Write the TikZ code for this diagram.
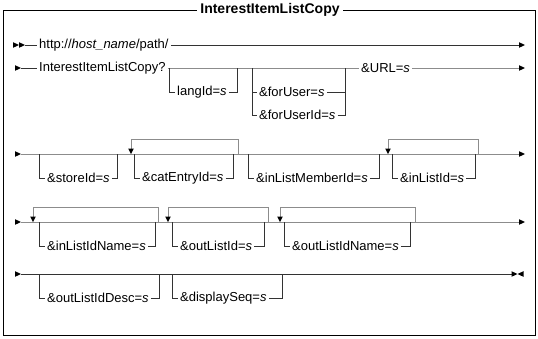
\documentclass[tikz,border=0pt]{standalone}
\usepackage{fontspec}
\setmainfont{Liberation Sans}
\newcommand\myRA[2]{\fill (#1,#2) -- ++(-6,-2.8) -- ++(0,5.6) -- cycle;}
\newcommand\myLA[2]{\fill (#1,#2) -- ++(6,-2.8) -- ++(0,5.6) -- cycle;}
\newcommand\myDA[2]{\fill (#1,#2) -- ++(-2.8,-5.5) -- ++(5.6,0) -- cycle;}
\begin{document}
\begin{tikzpicture}[x=1pt,y=-1pt,
  lbl/.style={font=\fontsize{13}{15}\selectfont, inner sep=2pt, anchor=west},
  ttl/.style={font=\bfseries\fontsize{14}{16}\selectfont, fill=white, inner sep=3pt},
  gl/.style={draw=black!45, line width=0.9pt},
  dl/.style={draw=black!80, line width=0.6pt}]
\useasboundingbox (0,0) rectangle (538,338);
\draw[line width=0.8pt] (3,10) rectangle (535,335);
\node[ttl] (title) at (270,10) {InterestItemListCopy};
% row 1
\myRA{19}{45}\myRA{25}{45}
\node[lbl] (http) at (37,45) {http://\textit{host\_name}/path/};
\draw[dl] (25,45) -- (http.west);
\draw[dl] (http.east) -- (519,45); \myRA{525}{45}
% row 2
\myRA{21}{68}
\node[lbl] (cmd) at (37,68) {InterestItemListCopy?};
\node[lbl] (URL) at (359,68) {\&URL=\textit{s}};
\draw[dl] (21,68) -- (cmd.west);
\draw[gl] (cmd.east) -- (URL.west);
\node[lbl] (lang) at (175,92) {langId=\textit{s}};
\draw[dl] (169,68) |- (lang.west);
\draw[dl] (lang.east) -| (237,68);
\node[lbl] (fu) at (257,92) {\&forUser=\textit{s}};
\node[lbl] (fui) at (257,115) {\&forUserId=\textit{s}};
\draw[dl] (252,68) |- (fui.west);
\draw[dl] (252,92) -- (fu.west);
\draw[dl] (fu.east) -| (345,68);
\draw[dl] (fui.east) -| (345,92);
\draw[gl] (URL.east) -- (519,68); \myRA{525}{68}
% row 3
\myRA{21}{154}
\draw[gl] (21,154) -- (519,154); \myRA{525}{154}
\node[lbl] (store) at (45,178) {\&storeId=\textit{s}};
\draw[dl] (39,154) |- (store.west);
\draw[dl] (store.east) -| (117,154);
\draw[gl] (238,154) |- (131,139) -- (131,149); \myDA{131}{154}
\node[lbl] (cat) at (140,178) {\&catEntryId=\textit{s}};
\draw[dl] (134,154) |- (cat.west);
\draw[dl] (cat.east) -| (233,154);
\node[lbl] (ilm) at (254,178) {\&inListMemberId=\textit{s}};
\draw[dl] (248,154) |- (ilm.west);
\draw[dl] (ilm.east) -| (379,154);
\draw[gl] (478,154) |- (388,139) -- (388,149); \myDA{388}{154}
\node[lbl] (ili) at (398,178) {\&inListId=\textit{s}};
\draw[dl] (392,154) |- (ili.west);
\draw[dl] (ili.east) -| (475,154);
% row 4
\myRA{21}{222}
\draw[gl] (21,222) -- (519,222); \myRA{525}{222}
\draw[gl] (158,222) |- (33,207) -- (33,217); \myDA{33}{222}
\node[lbl] (ilin) at (45,246) {\&inListIdName=\textit{s}};
\draw[dl] (39,222) |- (ilin.west);
\draw[dl] (ilin.east) -| (155,222);
\draw[gl] (268,222) |- (168,207) -- (168,217); \myDA{168}{222}
\node[lbl] (oli) at (178,246) {\&outListId=\textit{s}};
\draw[dl] (172,222) |- (oli.west);
\draw[dl] (oli.east) -| (264,222);
\draw[gl] (415,222) |- (280,207) -- (280,217); \myDA{280}{222}
\node[lbl] (olin) at (290,246) {\&outListIdName=\textit{s}};
\draw[dl] (284,222) |- (olin.west);
\draw[dl] (olin.east) -| (410,222);
% row 5
\myRA{21}{274}
\draw[dl] (21,274) -- (512,274); \myRA{517.5}{274}\myLA{517.5}{274}
\node[lbl] (olid) at (45,298) {\&outListIdDesc=\textit{s}};
\draw[dl] (39,274) |- (olid.west);
\draw[dl] (olid.east) -| (159,274);
\node[lbl] (ds) at (178,298) {\&displaySeq=\textit{s}};
\draw[dl] (172,274) |- (ds.west);
\draw[dl] (ds.east) -| (282,274);
\end{tikzpicture}
\end{document}
